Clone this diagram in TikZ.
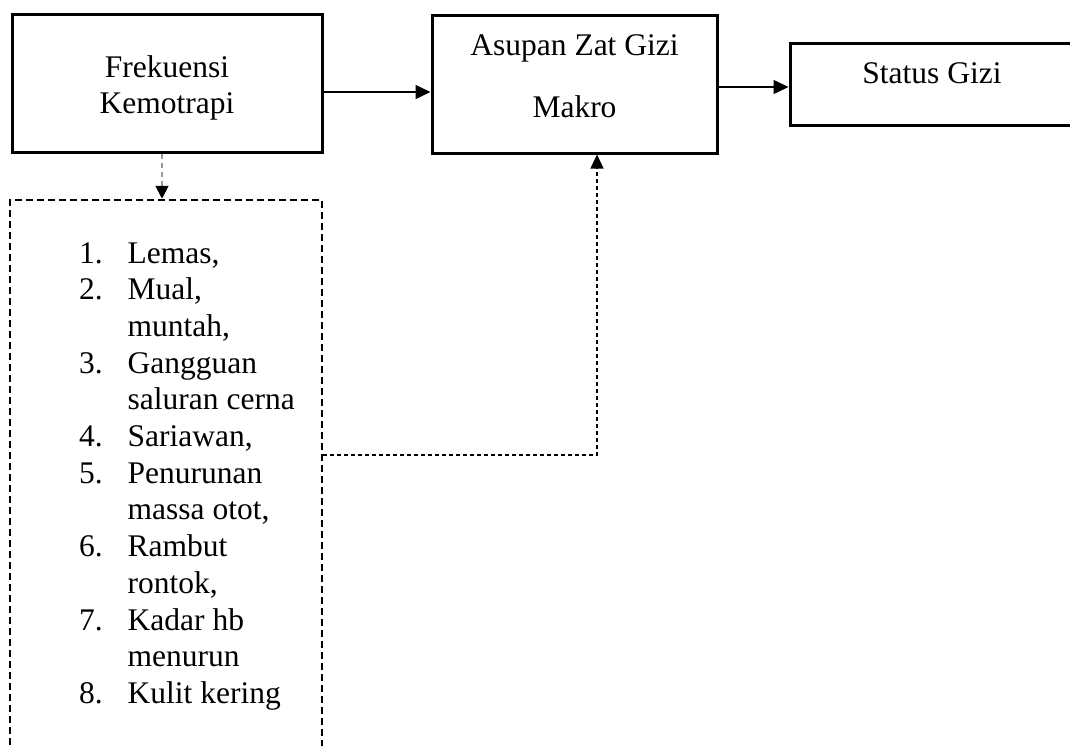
\documentclass[tikz,border=0pt]{standalone}
\usepackage{fontspec}
\setmainfont{Liberation Serif}
\usetikzlibrary{arrows.meta}
\begin{document}
\begin{tikzpicture}[x=1pt,y=-1pt,
  box/.style={draw=black,line width=3pt,rectangle,inner sep=0pt},
  dbox/.style={draw=black,line width=2.5pt,dash pattern=on 7pt off 4pt,rectangle,inner sep=0pt},
  txt/.style={anchor=base,inner sep=0pt,font=\fontsize{31.5}{36.7}\selectfont},
  ltxt/.style={anchor=base west,inner sep=0pt,font=\fontsize{31.5}{36.7}\selectfont},
  arr/.style={line width=1.3pt,-{Triangle[length=15pt,width=14pt]}},
  darr/.style={line width=1.1pt,dash pattern=on 4pt off 3pt,-{Triangle[length=14pt,width=13pt]}},
  garr/.style={draw=gray!80,line width=1.8pt,dash pattern=on 5pt off 4pt,-{Triangle[length=13pt,width=13pt,color=black]}}
]
\useasboundingbox (0,0) rectangle (1070,745);
% boxes
\node[box,minimum width=310pt,minimum height=138pt] (frek) at (167,83) {};
\node[box,minimum width=285pt,minimum height=138pt] (asup) at (574.5,84) {};
\node[box,minimum width=320pt,minimum height=82pt] (stat) at (950,84) {};
\node[dbox,minimum width=312pt,minimum height=620pt] (sym) at (166,510) {};
% texts
\node[txt] (t1) at (167,77) {Frekuensi};
\node[txt] (t2) at (167,113) {Kemotrapi};
\node[txt] (t3) at (574.5,55) {Asupan Zat Gizi};
\node[txt] (t4) at (574.5,117) {Makro};
\node[txt] (t5) at (932,83) {Status Gizi};
% list
\foreach \k/\num/\item in {0/1./{Lemas,},1/2./{Mual,},2//{muntah,},3/3./{Gangguan},4//{saluran cerna},5/4./{Sariawan,},6/5./{Penurunan},7//{massa otot,},8/6./{Rambut},9//{rontok,},10/7./{Kadar hb},11//{menurun},12/8./{Kulit kering}}{
  \node[ltxt] (n\k) at (79,263+36.7*\k) {\num};
  \node[ltxt] (i\k) at (127.5,263+36.7*\k) {\item};
}
% connectors
\draw[arr] (frek.east |- 0,92) -- (asup.west |- 0,92);
\draw[arr] (asup.east |- 0,87) -- (stat.west |- 0,87);
\draw[garr] (frek.south -| 162,0) -- (sym.north -| 162,0);
\coordinate (c) at (597,455);
\draw[darr] (sym.east |- c) -- (c) -- (asup.south -| c);
\end{tikzpicture}
\end{document}
